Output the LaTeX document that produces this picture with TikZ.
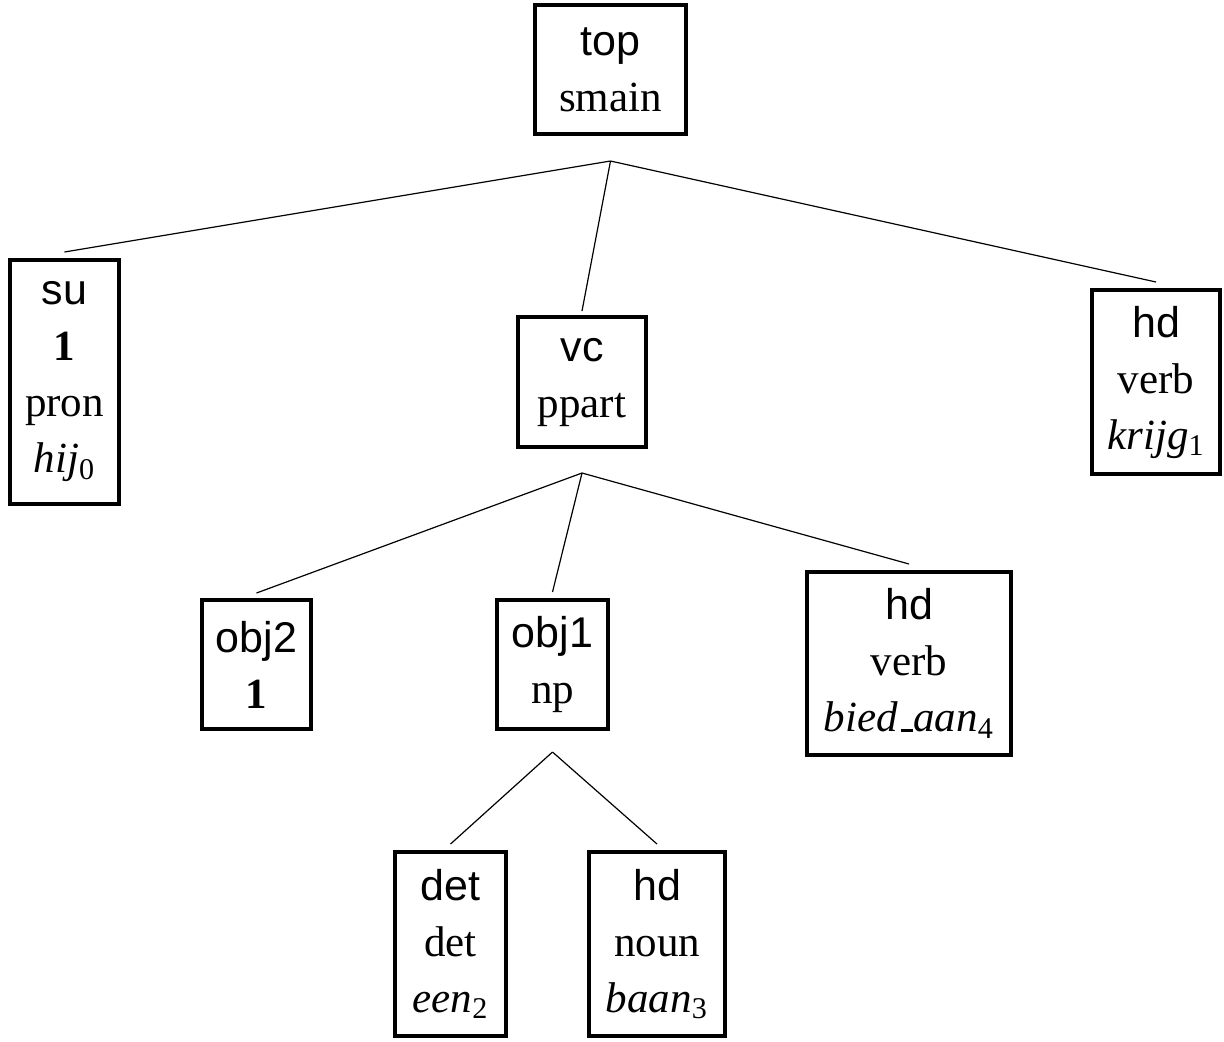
\documentclass[tikz,border=0pt]{standalone}
\usepackage{fontspec}
\setmainfont{Liberation Serif}
\setsansfont{Liberation Sans}
\usetikzlibrary{positioning}
\tikzset{
  catbox/.style={draw=black,line width=2pt,align=center,inner sep=0pt,
    font=\fontsize{21.5}{28}\selectfont},
  edge/.style={draw=black,line width=0.6pt}
}
\newcommand{\rel}[1]{\textsf{#1}}
\newcommand{\wrd}[2]{\textit{#1}\textsubscript{#2}}
\newcommand{\lowbar}{\kern.06em\vbox{\hrule width.3em height 1.6pt}}

\begin{document}
\begin{tikzpicture}[x=0.5pt,y=-0.5pt]
\useasboundingbox (0,0) rectangle (1224,1041);
\node[catbox,minimum width=75.5pt,minimum height=64.5pt] (top) at (610.5,69.5) {\rel{top}\\smain};
\node[catbox,minimum width=54.5pt,minimum height=122pt] (su) at (64.5,382) {\rel{su}\\\textbf{1}\\pron\\\wrd{hij}{0}};
\node[catbox,minimum width=64pt,minimum height=65pt] (vc) at (582,382) {\rel{vc}\\ppart};
\node[catbox,minimum width=64pt,minimum height=92pt] (hdk) at (1156,382) {\rel{hd}\\verb\\\wrd{krijg}{1}};
\node[catbox,minimum width=54.5pt,minimum height=64.5pt] (obj2) at (256.5,664.5) {\rel{obj2}\\\textbf{1}};
\node[catbox,minimum width=55.5pt,minimum height=64.5pt] (obj1) at (552.5,664.5) {\rel{obj1}\\np};
\node[catbox,minimum width=102pt,minimum height=91.5pt] (hdb) at (909,663.5) {\rel{hd}\\verb\\\wrd{bied\lowbar aan}{4}};
\node[catbox,minimum width=55.5pt,minimum height=92pt] (det) at (450.5,944) {\rel{det}\\det\\\wrd{een}{2}};
\node[catbox,minimum width=68pt,minimum height=92pt] (hdn) at (657,944) {\rel{hd}\\noun\\\wrd{baan}{3}};
% branch points
\coordinate[below=12.5pt of top] (topj);
\coordinate[below=12pt of vc] (vcj);
\coordinate[below=10.5pt of obj1] (npj);
\draw[edge] (topj) -- ([yshift=3pt]su.north);
\draw[edge] (topj) -- ([yshift=2pt]vc.north);
\draw[edge] (topj) -- ([yshift=3pt]hdk.north);
\draw[edge] (vcj) -- ([yshift=2.5pt]obj2.north);
\draw[edge] (vcj) -- ([yshift=3pt]obj1.north);
\draw[edge] (vcj) -- ([yshift=3pt]hdb.north);
\draw[edge] (npj) -- ([yshift=3pt]det.north);
\draw[edge] (npj) -- ([yshift=3pt]hdn.north);
\end{tikzpicture}
\end{document}
